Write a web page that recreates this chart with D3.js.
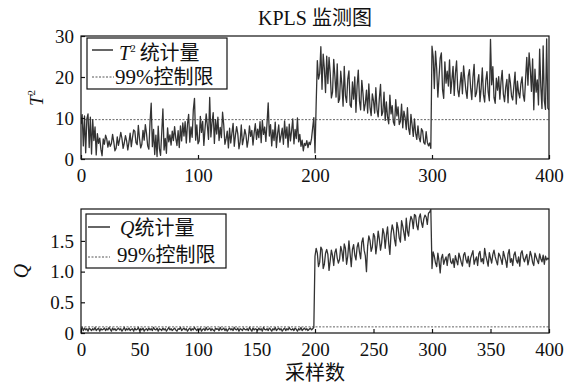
<!DOCTYPE html>
<html>
<head>
<meta charset="utf-8">
<script src="https://cdn.jsdelivr.net/npm/d3@7"></script>
<style>
  body { margin: 0; background: #fff; }
  svg text { font-family: "Liberation Serif", "Noto Sans CJK SC", serif; fill: #111; }
</style>
</head>
<body>
<div id="chart"></div>
<script>
// T² statistic, sample 0..400
const t2Values = [
  8.5, 10.8, 3.2, 10.5, 1.5, 9.8, 11.0, 2.8, 10.2, 1.2, 9.6, 4.5, 7.8, 1.0, 6.2, 3.8, 5.1, 2.4, 0.8, 4.9,
  3.6, 5.8, 4.9, 2.9, 4.4, 3.1, 3.8, 6.0, 4.2, 2.0, 2.6, 5.4, 3.3, 4.8, 6.5, 5.0, 2.6, 3.9, 5.7, 4.4,
  2.2, 4.1, 6.3, 3.0, 5.2, 7.1, 6.8, 4.0, 3.5, 8.2, 5.0, 2.7, 3.6, 7.0, 4.6, 8.4, 6.2, 3.2, 2.4, 9.0,
  13.6, 3.0, 7.2, 1.1, 5.8, 0.6, 8.0, 2.5, 0.9, 6.4, 12.2, 2.2, 5.0, 1.4, 7.6, 4.2, 5.9, 3.4, 6.8, 4.5,
  7.9, 5.1, 3.3, 6.9, 2.8, 8.1, 4.4, 8.8, 5.6, 9.1, 3.9, 8.5, 10.9, 4.1, 7.8, 5.3, 12.0, 14.8, 4.6, 8.3,
  3.7, 4.4, 10.4, 6.5, 9.2, 3.3, 7.4, 11.0, 8.1, 4.8, 15.0, 5.4, 8.9, 11.3, 3.8, 9.6, 6.1, 10.2, 4.5, 7.7,
  5.2, 11.4, 8.3, 3.6, 4.9, 6.8, 2.7, 7.5, 3.9, 6.3, 8.7, 3.1, 5.8, 7.9, 6.2, 2.5, 4.2, 8.3, 3.5, 5.0,
  7.2, 5.9, 2.9, 4.7, 8.1, 5.5, 7.0, 3.4, 6.4, 8.6, 4.8, 7.3, 5.2, 9.1, 4.0, 9.4, 6.0, 7.8, 4.3, 8.8,
  13.7, 5.6, 8.4, 3.2, 7.1, 4.5, 9.0, 2.8, 6.2, 8.3, 4.1, 5.7, 7.5, 3.6, 9.3, 5.1, 7.8, 2.9, 8.5, 4.4,
  6.9, 9.8, 3.7, 7.2, 5.0, 10.0, 4.2, 6.0, 3.1, 4.6, 2.0, 3.8, 3.3, 4.5, 2.8, 4.1, 3.5, 4.9, 7.6, 10.1,
  1.5, 13.5, 24.0, 19.5, 20.8, 27.4, 17.0, 25.6, 22.0, 16.2, 25.1, 18.4, 24.8, 21.0, 14.9, 16.3, 24.3, 20.2, 15.1, 23.2,
  13.8, 14.6, 21.4, 18.0, 12.9, 22.6, 15.4, 13.8, 19.5, 21.5, 13.2, 12.6, 18.8, 14.6, 20.0, 11.4, 17.9, 21.7, 14.1, 12.0,
  19.2, 16.0, 11.8, 13.5, 16.8, 11.2, 18.3, 12.6, 10.6, 15.9, 14.2, 11.2, 17.4, 12.0, 10.3, 14.8, 18.2, 10.6, 11.5, 16.3,
  9.4, 13.9, 10.2, 8.6, 15.6, 11.0, 13.0, 9.0, 8.2, 14.5, 10.5, 12.7, 8.4, 9.2, 13.4, 7.6, 11.7, 10.1, 7.2, 12.5,
  7.5, 6.0, 10.9, 8.3, 5.5, 9.8, 6.3, 4.8, 8.1, 5.2, 4.2, 7.4, 6.8, 4.0, 3.6, 6.7, 4.1, 3.2, 3.9, 2.6,
  27.5, 25.0, 17.2, 26.3, 22.0, 15.1, 19.8, 24.6, 25.9, 16.9, 14.8, 23.7, 18.5, 21.4, 17.8, 24.2, 16.0, 19.3, 22.6, 15.5,
  20.9, 23.9, 17.0, 15.2, 18.2, 21.1, 15.9, 22.7, 19.5, 16.6, 14.8, 20.3, 21.8, 17.4, 14.5, 19.9, 23.1, 15.2, 16.1, 18.7,
  20.6, 14.0, 17.3, 22.2, 15.7, 13.9, 19.1, 21.3, 16.4, 14.2, 29.2, 18.1, 22.5, 15.0, 13.6, 19.7, 16.8, 20.1, 14.6, 18.9,
  21.6, 15.8, 14.0, 17.5, 19.4, 13.7, 20.7, 18.6, 15.3, 14.4, 17.9, 21.2, 13.4, 19.0, 16.2, 14.9, 18.4, 20.0, 15.6, 14.1,
  19.6, 24.8, 18.0, 25.9, 22.0, 16.5, 24.4, 12.0, 21.9, 16.3, 19.3, 13.2, 26.8, 17.6, 12.3, 27.6, 14.2, 12.1, 29.3, 12.4,
  12.0
];

// Q statistic, sample 0..400
const qValues = [
  .06, .09, .04, .08, .05, .07, .03, .08, .06, .04, .07, .05, .09, .04, .06, .08, .03, .07, .05, .06,
  .08, .04, .07, .05, .09, .06, .03, .08, .05, .07, .04, .06, .08, .05, .07, .03, .06, .09, .04, .07,
  .05, .08, .04, .06, .07, .03, .08, .05, .06, .09, .04, .07, .05, .08, .03, .06, .07, .04, .08, .05,
  .07, .04, .09, .06, .05, .08, .03, .07, .06, .04, .08, .05, .07, .03, .06, .09, .05, .07, .04, .06,
  .08, .05, .03, .07, .06, .09, .04, .06, .08, .05, .07, .03, .06, .08, .04, .07, .05, .09, .06, .04,
  .07, .05, .08, .03, .06, .07, .04, .09, .05, .06, .08, .04, .07, .05, .03, .08, .06, .07, .04, .09,
  .05, .06, .08, .04, .07, .03, .06, .08, .05, .07, .04, .09, .06, .05, .08, .03, .07, .06, .04, .08,
  .06, .05, .07, .04, .09, .06, .03, .08, .05, .07, .06, .04, .08, .05, .07, .03, .09, .06, .05, .07,
  .04, .08, .06, .03, .07, .05, .09, .04, .06, .08, .05, .07, .03, .06, .08, .04, .07, .05, .09, .06,
  .05, .07, .04, .08, .06, .03, .07, .05, .09, .04, .06, .08, .05, .07, .04, .06, .08, .05, .07, .09,
  1.25, 1.38, 1.30, 1.08, 1.15, 1.40, 1.36, 1.05, 1.12, 1.30, 1.36, 1.28, 1.02, 1.18, 1.35, 1.26, 1.10, 1.31, 1.37, 1.22,
  1.14, 1.20, 1.41, 1.33, 1.17, 1.45, 1.38, 1.12, 1.25, 1.50, 1.29, 1.08, 1.36, 1.44, 1.27, 1.19, 1.40, 1.47, 1.32, 1.21,
  1.48, 1.55, 1.35, 1.26, 1.00, 1.42, 1.58, 1.51, 1.33, 1.40, 1.62, 1.57, 1.29, 1.44, 1.66, 1.53, 1.35, 1.47, 1.70, 1.62,
  1.38, 1.59, 1.73, 1.46, 1.28, 1.62, 1.76, 1.68, 1.52, 1.42, 1.80, 1.71, 1.55, 1.48, 1.83, 1.74, 1.63, 1.51, 1.87, 1.66,
  1.58, 1.79, 1.90, 1.85, 1.70, 1.93, 1.91, 1.75, 1.68, 1.88, 1.94, 1.80, 1.72, 1.86, 1.92, 1.89, 1.77, 1.95, 1.97, 2.01,
  1.05, 1.32, 1.25, 1.14, 1.08, 1.30, 1.17, 0.98, 1.22, 1.28, 1.12, 1.19, 1.24, 1.10, 1.27, 1.29, 1.16, 1.13, 1.21, 1.07,
  1.26, 1.18, 1.11, 1.30, 1.23, 1.15, 1.09, 1.27, 1.31, 1.20, 1.14, 1.25, 1.08, 1.22, 1.28, 1.34, 1.12, 1.19, 1.24, 1.10,
  1.29, 1.33, 1.16, 1.21, 1.13, 1.38, 1.26, 1.18, 1.09, 1.31, 1.22, 1.14, 1.28, 1.35, 1.24, 1.17, 1.11, 1.30, 1.26, 1.20,
  1.12, 1.33, 1.25, 1.18, 1.07, 1.29, 1.36, 1.15, 1.21, 1.10, 1.27, 1.32, 1.19, 1.14, 1.24, 1.09, 1.30, 1.34, 1.22, 1.16,
  1.23, 1.28, 1.11, 1.20, 1.33, 1.26, 1.15, 1.10, 1.30, 1.24, 1.18, 1.13, 1.29, 1.21, 1.16, 1.27, 1.12, 1.25, 1.19, 1.22,
  1.20
];

const t2Limit = 9.6;
const qLimit = 0.1;

const t2Ticks = [0, 10, 20, 30];
const qTicks = [0, 0.5, 1.0, 1.5];
const xTicksTop = [0, 100, 200, 300, 400];
const xTicksBottom = [0, 50, 100, 150, 200, 250, 300, 350, 400];

const width = 573, height = 385;
const left = 81, right = 549;

const svg = d3.select("#chart").append("svg")
  .attr("width", width)
  .attr("height", height);

const x = d3.scaleLinear().domain([0, 400]).range([left, right]);

function drawPanel(opts) {
  const y = d3.scaleLinear().domain(opts.yDomain).range([opts.bottom, opts.top]);
  const g = svg.append("g");

  const clipId = "clip-" + opts.name;
  svg.append("clipPath").attr("id", clipId)
    .append("rect")
    .attr("x", left).attr("y", opts.top)
    .attr("width", right - left).attr("height", opts.bottom - opts.top);

  // control limit
  g.append("line")
    .attr("x1", x(0)).attr("x2", x(400))
    .attr("y1", y(opts.limit)).attr("y2", y(opts.limit))
    .attr("stroke", "#555")
    .attr("stroke-width", 0.9)
    .attr("stroke-dasharray", "2,1.5");

  const line = d3.line()
    .x((d, i) => x(i))
    .y(d => y(d));

  g.append("path")
    .datum(opts.values)
    .attr("clip-path", "url(#" + clipId + ")")
    .attr("fill", "none")
    .attr("stroke", "#333")
    .attr("stroke-width", 1.3)
    .attr("stroke-linejoin", "round")
    .attr("d", line);

  // frame
  g.append("rect")
    .attr("x", left).attr("y", opts.top)
    .attr("width", right - left).attr("height", opts.bottom - opts.top)
    .attr("fill", "none")
    .attr("stroke", "#111")
    .attr("stroke-width", 1.2);

  const yAxis = d3.axisLeft(y).tickValues(opts.yTicks).tickFormat(opts.yFormat)
    .tickSizeInner(-4).tickSizeOuter(0).tickPadding(7);
  const ya = g.append("g").attr("transform", "translate(" + left + ",0)").call(yAxis);

  const xAxis = d3.axisBottom(x).tickValues(opts.xTicks).tickFormat(d3.format("d"))
    .tickSizeInner(-4).tickSizeOuter(0).tickPadding(8);
  const xa = g.append("g").attr("transform", "translate(0," + opts.bottom + ")").call(xAxis);

  [ya, xa].forEach(a => {
    a.select(".domain").remove();
    a.selectAll("line").attr("stroke", "#111").attr("stroke-width", 1.2);
    a.selectAll("text").attr("font-size", 19).attr("fill", "#111")
      .style("font-family", "'Liberation Serif', serif");
  });
  xa.selectAll("text").attr("dy", "0.78em");

  return y;
}

drawPanel({
  name: "t2", values: t2Values, limit: t2Limit,
  top: 36, bottom: 159, yDomain: [0, 30],
  yTicks: t2Ticks, yFormat: d3.format("d"), xTicks: xTicksTop
});

drawPanel({
  name: "q", values: qValues, limit: qLimit,
  top: 209, bottom: 333, yDomain: [0, 2.02],
  yTicks: qTicks, yFormat: d => d === 0 ? "0" : d3.format(".1f")(d), xTicks: xTicksBottom
});

// title
svg.append("text")
  .attr("x", 315).attr("y", 25)
  .attr("text-anchor", "middle")
  .attr("font-size", 20)
  .text("KPLS 监测图");

// y labels
const t2Label = svg.append("text")
  .attr("transform", "translate(43,98) rotate(-90)")
  .attr("text-anchor", "middle")
  .attr("font-size", 19);
t2Label.append("tspan").attr("font-style", "italic").text("T");
t2Label.append("tspan").attr("font-size", 11).attr("dy", -8).text("2");

svg.append("text")
  .attr("transform", "translate(28,271) rotate(-90)")
  .attr("text-anchor", "middle")
  .attr("font-size", 20)
  .attr("font-style", "italic")
  .text("Q");

// x label
svg.append("text")
  .attr("x", 315).attr("y", 380)
  .attr("text-anchor", "middle")
  .attr("font-size", 20)
  .text("采样数");

// legends
function legend(box, rows) {
  const g = svg.append("g");
  g.append("rect")
    .attr("x", box.x).attr("y", box.y).attr("width", box.w).attr("height", box.h)
    .attr("fill", "#fff").attr("stroke", "#111").attr("stroke-width", 1.2);
  rows.forEach(r => {
    g.append("line")
      .attr("x1", r.x1).attr("x2", r.x2).attr("y1", r.ly).attr("y2", r.ly)
      .attr("stroke", r.dashed ? "#555" : "#333")
      .attr("stroke-width", r.dashed ? 1 : 1.5)
      .attr("stroke-dasharray", r.dashed ? "2,1.5" : null);
    const t = g.append("text").attr("x", r.tx).attr("y", r.ty).attr("font-size", 20);
    r.parts.forEach(p => {
      const s = t.append("tspan").text(p.text);
      if (p.italic) s.attr("font-style", "italic");
      if (p.sup) s.attr("font-size", 11).attr("dy", -8);
      if (p.down) s.attr("dy", 8).attr("dx", 4);
      if (p.fs) s.attr("font-size", p.fs);
    });
  });
}

legend({ x: 87, y: 38, w: 140, h: 51 }, [
  { x1: 92, x2: 113, ly: 50, tx: 119, ty: 60,
    parts: [{ text: "T", italic: true }, { text: "2", sup: true }, { text: "统计量", down: true }] },
  { x1: 92, x2: 114, ly: 77, tx: 115, ty: 84, dashed: true,
    parts: [{ text: "99%", fs: 21 }, { text: "控制限" }] }
]);

legend({ x: 86, y: 214, w: 140, h: 54 }, [
  { x1: 88, x2: 110, ly: 227, tx: 120, ty: 235,
    parts: [{ text: "Q", italic: true }, { text: "统计量" }] },
  { x1: 88, x2: 110, ly: 257, tx: 117, ty: 262, dashed: true,
    parts: [{ text: "99%", fs: 21 }, { text: "控制限" }] }
]);
</script>
</body>
</html>
